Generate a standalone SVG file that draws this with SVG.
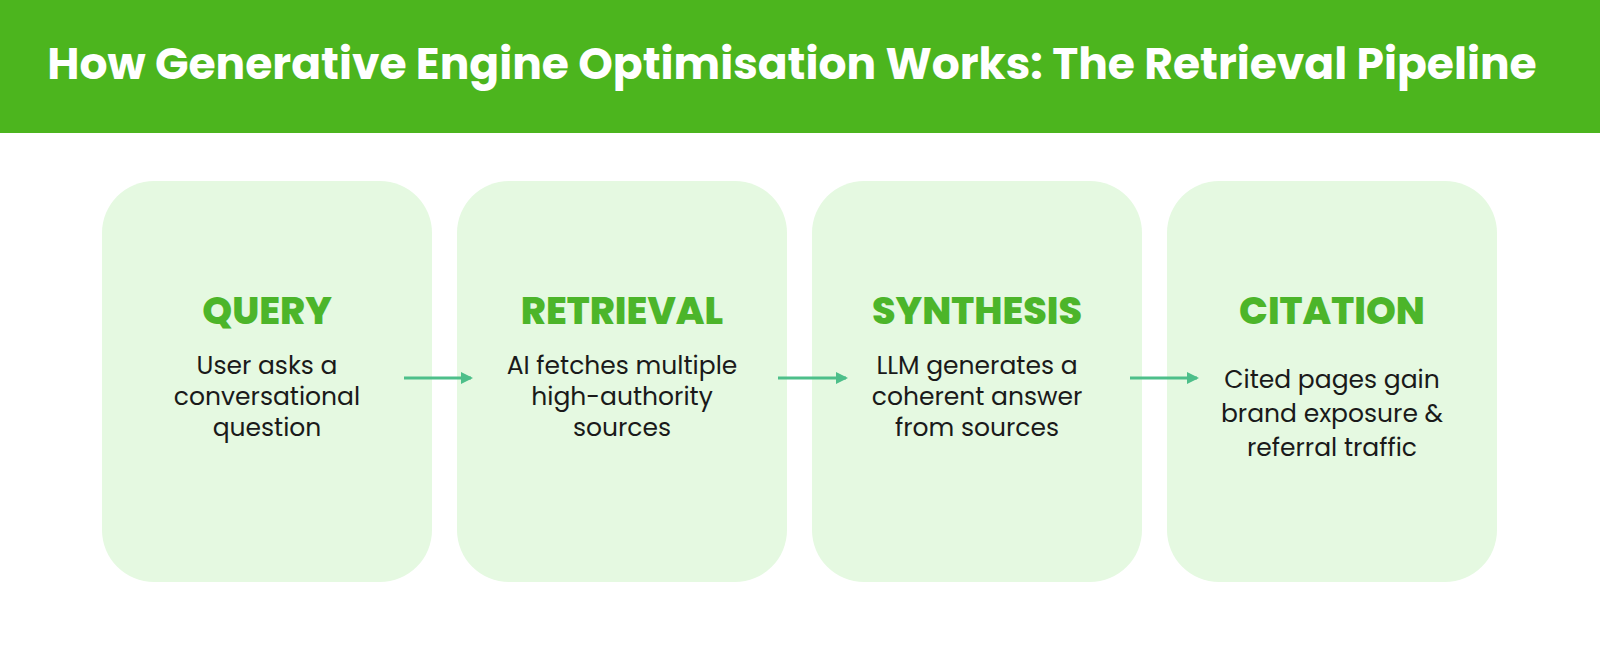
<svg xmlns="http://www.w3.org/2000/svg" width="1600" height="664" viewBox="0 0 1600 664">
<defs>
<style>
.box{fill:#e5f9e1}
.t{font-family:Poppins,Inter,"Open Sans",sans-serif;font-weight:800;font-size:38px;fill:#4cb52a;text-anchor:middle}
.b{font-family:Poppins,Inter,"Open Sans",sans-serif;font-size:25px;fill:#1a1a1a;text-anchor:middle}
.a{stroke:#4dbf8a;stroke-width:3;fill:none}
</style>
<marker id="ah" markerWidth="12" markerHeight="12" refX="10" refY="6" orient="auto" markerUnits="userSpaceOnUse"><path d="M0,0 L12,6 L0,12 Z" fill="#4dbf8a"/></marker>
</defs>
<rect width="1600" height="664" fill="#fff"/>
<g id="header"><rect width="1600" height="133" fill="#4cb51e"/>
<text x="792" y="79" font-family="Poppins,Inter,'Open Sans',sans-serif" font-weight="700" font-size="44" fill="#fff" text-anchor="middle">How Generative Engine Optimisation Works: The Retrieval Pipeline</text></g>
<g id="query"><rect class="box" x="102" y="181" width="330" height="401" rx="52"/><text class="t" x="267" y="324">QUERY</text><text class="b" x="267" y="374">User asks a</text><text class="b" x="267" y="405">conversational</text><text class="b" x="267" y="436">question</text></g>
<g id="retrieval"><rect class="box" x="457" y="181" width="330" height="401" rx="52"/><text class="t" x="622" y="324">RETRIEVAL</text><text class="b" x="622" y="374">AI fetches multiple</text><text class="b" x="622" y="405">high-authority</text><text class="b" x="622" y="436">sources</text></g>
<g id="synthesis"><rect class="box" x="812" y="181" width="330" height="401" rx="52"/><text class="t" x="977" y="324">SYNTHESIS</text><text class="b" x="977" y="374">LLM generates a</text><text class="b" x="977" y="405">coherent answer</text><text class="b" x="977" y="436">from sources</text></g>
<g id="citation"><rect class="box" x="1167" y="181" width="330" height="401" rx="52"/><text class="t" x="1332" y="324">CITATION</text><text class="b" x="1332" y="388">Cited pages gain</text><text class="b" x="1332" y="422">brand exposure &amp;</text><text class="b" x="1332" y="456">referral traffic</text></g>
<g id="connectors">
<line class="a" x1="404" y1="378" x2="471" y2="378" marker-end="url(#ah)"/>
<line class="a" x1="778" y1="378" x2="846" y2="378" marker-end="url(#ah)"/>
<line class="a" x1="1130" y1="378" x2="1197" y2="378" marker-end="url(#ah)"/>
</g>
</svg>
